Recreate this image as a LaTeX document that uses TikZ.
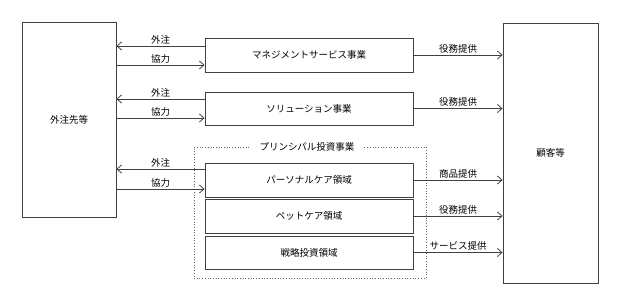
\documentclass[tikz,border=0pt]{standalone}
\usepackage{fontspec}
\setmainfont{Noto Sans CJK JP}
\usetikzlibrary{arrows.meta, positioning, calc}

\begin{document}
\begin{tikzpicture}[
    x=1pt, y=-1pt,
    font=\fontsize{9.5}{11}\selectfont,
    party/.style={
        rectangle, draw=black!75, line width=0.9pt,
        fill=white, inner sep=0pt, align=center
    },
    business/.style={
        rectangle, draw=black!75, line width=0.9pt,
        fill=white, minimum width=208pt, inner sep=0pt, align=center
    },
    frame/.style={
        rectangle, draw=black!60, dotted, line width=0.7pt,
        minimum width=232pt, minimum height=131pt, inner sep=0pt
    },
    flow/.style={draw=black!75, line width=0.8pt, -{Straight Barb[length=4.5pt,width=8pt]}},
    lbl/.style={above, inner sep=1.5pt}
]
\useasboundingbox (0,0) rectangle (624,299);

% -------------------------
% 1. Outer parties
% -------------------------
\node[party, minimum width=94pt, minimum height=195pt] (Gaichu) at (69, 119.5) {外注先等};
\node[party, minimum width=95pt, minimum height=260pt] (Kokyaku) at (550.5, 153) {顧客等};

% -------------------------
% 2. Businesses
% -------------------------
\node[frame] (Principal) at (310, 212.5) {};
\node[fill=white, inner xsep=9pt, inner ysep=3pt] (PrincipalTitle) at (307, 147) {プリンシパル投資事業};

\node[business, minimum height=34pt] (Mgmt) at (309, 55) {マネジメントサービス事業};
\node[business, minimum height=33pt] (Sol) at (309, 108.5) {ソリューション事業};
\node[business, minimum height=34pt] (Personal) at (309, 180) {パーソナルケア領域};
\node[business, minimum height=34pt] (Pet) at (309, 216) {ペットケア領域};
\node[business, minimum height=33pt] (Strategy) at (309, 252.5) {戦略投資領域};

% -------------------------
% 3. Outsourcing / cooperation
% -------------------------
\draw[flow] ([yshift=9pt]Mgmt.west) -- node[lbl] {外注} ([yshift=9pt]Mgmt.west -| Gaichu.east);
\draw[flow] ([yshift=-10pt]Mgmt.west -| Gaichu.east) -- node[lbl] {協力} ([yshift=-10pt]Mgmt.west);

\draw[flow] ([yshift=9.5pt]Sol.west) -- node[lbl] {外注} ([yshift=9.5pt]Sol.west -| Gaichu.east);
\draw[flow] ([yshift=-9.5pt]Sol.west -| Gaichu.east) -- node[lbl] {協力} ([yshift=-9.5pt]Sol.west);

\draw[flow] ([yshift=11pt]Personal.west) -- node[lbl] {外注} ([yshift=11pt]Personal.west -| Gaichu.east);
\draw[flow] ([yshift=-9pt]Personal.west -| Gaichu.east) -- node[lbl] {協力} ([yshift=-9pt]Personal.west);

% -------------------------
% 4. Supply to customers
% -------------------------
\draw[flow] (Mgmt.east) -- node[lbl] {役務提供} (Mgmt.east -| Kokyaku.west);
\draw[flow] (Sol.east) -- node[lbl] {役務提供} (Sol.east -| Kokyaku.west);
\draw[flow] (Personal.east) -- node[lbl] {商品提供} (Personal.east -| Kokyaku.west);
\draw[flow] (Pet.east) -- node[lbl] {役務提供} (Pet.east -| Kokyaku.west);
\draw[flow] (Strategy.east) -- node[lbl] {サービス提供} (Strategy.east -| Kokyaku.west);

\end{tikzpicture}
\end{document}
